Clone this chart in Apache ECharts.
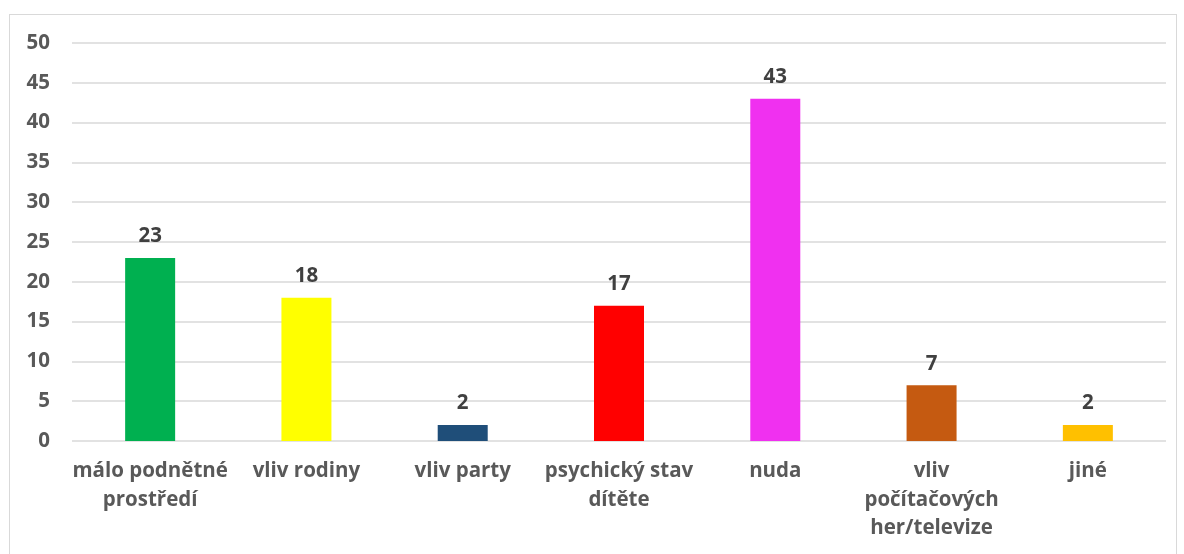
<!DOCTYPE html>
<html><head><meta charset="utf-8">
<script src="https://cdn.jsdelivr.net/npm/echarts@6/dist/echarts.min.js"></script>
<style>
html,body{margin:0;padding:0;background:#fff;}
#frame{position:absolute;left:9px;top:14px;width:1168px;height:545px;border:1.5px solid #d9d9d9;box-sizing:border-box;}
#c{position:absolute;left:0;top:0;width:1184px;height:554px;}
</style></head>
<body>
<div id="frame"></div>
<div id="c"></div>
<script>
var categories = ["málo podnětné\nprostředí","vliv rodiny","vliv party","psychický stav\ndítěte","nuda","vliv\npočítačových\nher/televize","jiné"];
var values = [23,18,2,17,43,7,2];
var barColors = ["#00b050","#ffff00","#1f4e79","#ff0000","#f030f0","#c55a11","#ffc000"];
var yTicks = {min:0,max:50,interval:5};

var chart = echarts.init(document.getElementById('c'));
var font = '"Open Sans", sans-serif';
chart.setOption({
  animation:false,
  grid:{left:72,right:18,top:43,bottom:113},
  xAxis:{type:'category',data:categories,
    axisLine:{show:false},axisTick:{show:false},
    axisLabel:{color:'#595959',fontSize:20.5,fontWeight:'bold',fontFamily:font,margin:16,lineHeight:28.5,interval:0}},
  yAxis:{type:'value',min:yTicks.min,max:yTicks.max,interval:yTicks.interval,
    axisLine:{show:false},axisTick:{show:false},
    splitLine:{lineStyle:{color:'#d9d9d9',width:1.5}},
    axisLabel:{color:'#595959',fontSize:20.5,fontWeight:'bold',fontFamily:font,margin:22}},
  series:[{type:'bar',barWidth:50,
    data:values.map(function(v,i){return {value:v,itemStyle:{color:barColors[i]}};}),
    label:{show:true,position:'top',distance:11,color:'#404040',fontSize:20.5,fontWeight:'bold',fontFamily:font}}]
});
</script>
</body></html>
